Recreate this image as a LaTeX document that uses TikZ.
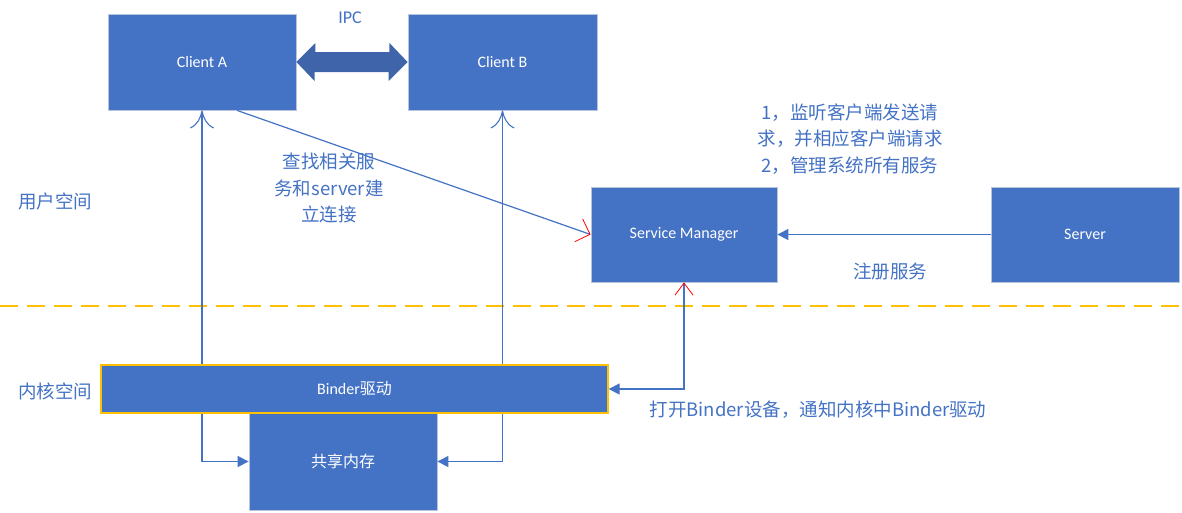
\documentclass[tikz,border=0pt]{standalone}
\usepackage{fontspec}
\setmainfont{Carlito}
\newfontfamily\cjk{Noto Sans CJK SC}
\usetikzlibrary{arrows.meta}
\definecolor{obl}{HTML}{4472C4}
\definecolor{ipcc}{HTML}{3F64AA}
\definecolor{gold}{HTML}{FFC000}
\definecolor{bord}{HTML}{B8C4DA}
\tikzset{
  box/.style={draw=bord, line width=0.8pt, fill=obl, text=white, inner sep=0pt, font=\fontsize{16}{18}\selectfont},
  conn/.style={draw=obl, line width=1.2pt},
  lbl/.style={text=obl, inner sep=0pt, align=center, font=\cjk\fontsize{18.5}{26.5}\selectfont},
  tri/.tip={Triangle[length=11pt,width=11pt]},
  openb/.tip={Computer Modern Rightarrow[length=18pt,width=24pt,line width=1.1pt]},
  redb/.tip={Straight Barb[color=red,length=12pt,width=24pt,line width=0.8pt]},
  redbs/.tip={Straight Barb[color=red,length=12pt,width=18pt,line width=0.8pt]}
}
\begin{document}
\begin{tikzpicture}[x=1pt,y=-1pt]
\useasboundingbox (0,0) rectangle (1182,512);
% dashed separator
\draw[gold, line width=1.5pt, dash pattern=on 18pt off 9pt] (0,306) -- (1182,306);
% boxes
\node[box, minimum width=188, minimum height=96] (ca) at (202,62) {Client A};
\node[box, minimum width=189, minimum height=96] (cb) at (502.5,62) {Client B};
\node[box, minimum width=186, minimum height=95] (sm) at (684,234.5) {Service Manager};
\node[box, minimum width=188, minimum height=95] (srv) at (1085,234.5) {Server};
\node[box, minimum width=188, minimum height=97] (shm) at (343,461.5) {\cjk 共享内存};
\node[box, draw=gold, line width=1.3pt, minimum width=507, minimum height=48] (binder) at (354.5,389) {Binder\cjk 驱动};
% IPC double arrow
\fill[ipcc] (ca.east) -- ++(19,-19) -- ++(0,9) -- ++(74,0) -- ++(0,-9) -- (cb.west)
  -- ++(-19,19) -- ++(0,-9) -- ++(-74,0) -- ++(0,9) -- cycle;
\node[text=obl, inner sep=0pt, font=\fontsize{18}{20}\selectfont] (ipc) at (350,18) {IPC};
% connectors
\draw[conn, -{openb}] (ca.south |- binder.north) -- (ca.south);
\draw[conn, -{openb}] (cb.south |- binder.north) -- (cb.south);
\draw[conn, -{tri}] (ca.south |- binder.south) |- (shm.west);
\draw[conn, -{tri}] (cb.south |- binder.south) |- (shm.east);
\draw[conn, -{redb}] ([xshift=35pt]ca.south) -- (sm.west);
\draw[conn, -{tri}] (srv.west) -- (sm.east);
\draw[conn, {tri}-{redbs}] (binder.east) -| (sm.south);
% labels
\node[lbl] (user) at (55,201) {用户空间};
\node[lbl] (kern) at (55,391) {内核空间};
\node[lbl] (find) at (329,188) {查找相关服\\务和server建\\立连接};
\node[lbl] (reg) at (890,271) {注册服务};
\node[lbl] (desc) at (850,139) {1，监听客户端发送请\\求，并相应客户端请求\\2，管理系统所有服务};
\node[lbl] (open) at (818,410) {打开Binder设备，通知内核中Binder驱动};
\end{tikzpicture}
\end{document}
